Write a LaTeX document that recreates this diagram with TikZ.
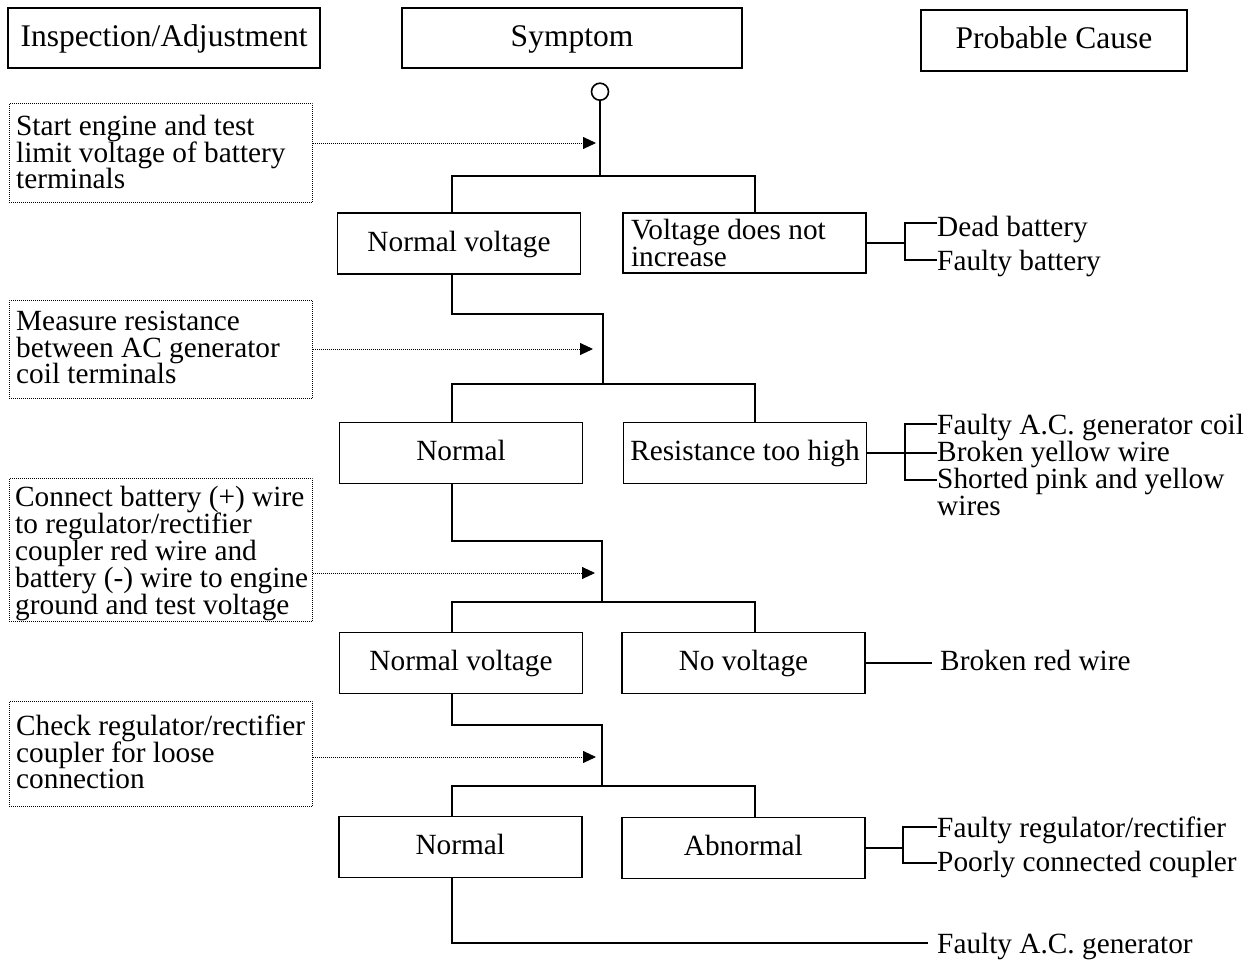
\documentclass[tikz,border=0pt]{standalone}
\usepackage{fontspec}
\setmainfont{Liberation Serif}
\usetikzlibrary{arrows.meta}
\begin{document}
\lineskiplimit=-20pt
\begin{tikzpicture}[x=1pt,y=-1pt,
  every node/.style={inner sep=0pt},
  body/.style={font=\fontsize{29.3}{26.8}\selectfont},
  headbox/.style={draw,line width=1.6pt,minimum width=#1,minimum height=60pt,
    font=\fontsize{31.5}{30}\selectfont,text height=21.5pt,text depth=5pt},
  sbox/.style={draw,line width=1.8pt,minimum width=243pt,minimum height=61pt,
    body,text height=20pt,text depth=5pt},
  sboxml/.style={draw,line width=1.8pt,minimum width=243pt,minimum height=60pt,
    body,align=flush left,text width=227pt,inner xsep=8pt},
  dotbox/.style={draw,line width=0.9pt,dash pattern=on 0.9pt off 1.1pt,
    minimum width=303pt,anchor=north west},
  dottext/.style={body,anchor=north west,align=left},
  dotarr/.style={line width=0.9pt,dash pattern=on 0.9pt off 1.1pt,
    -{Triangle[length=13pt,width=12pt]}},
  conn/.style={line width=1.8pt},
  cause/.style={body,anchor=base west},
]
\useasboundingbox (0,0) rectangle (1257,959);

% column headings
\node[headbox=312pt] (hInsp) at (164,38) {Inspection/Adjustment};
\node[headbox=340pt] (hSym) at (572,38) {Symptom};
\node[headbox=266pt,minimum height=61pt] (hCause) at (1054,40.5) {Probable Cause};

% inspection steps (dotted boxes)
\node[dotbox,minimum height=99pt] (i1) at (9,103) {};
\node[dottext] (i1t) at (16,103) {\vrule height 32pt width 0pt Start engine and test\\limit voltage of battery\\terminals};
\node[dotbox,minimum height=98pt] (i2) at (9,300) {};
\node[dottext] (i2t) at (16,300) {\vrule height 30pt width 0pt Measure resistance\\between AC generator\\coil terminals};
\node[dotbox,minimum height=143pt] (i3) at (9,478) {};
\begin{scope}
  \clip (i3.north west) rectangle (i3.south east);
  \node[dottext] (i3t) at (15,478) {\vrule height 28.7pt width 0pt Connect battery (+) wire\\to regulator/rectifier\\coupler red wire and\\battery (-) wire to engine\\ground and test voltage};
\end{scope}
\node[dotbox,minimum height=105pt] (i4) at (9,701) {};
\node[dottext] (i4t) at (16,701) {\vrule height 34pt width 0pt Check regulator/rectifier\\coupler for loose\\connection};

% symptom boxes
\node[draw,circle,line width=1.6pt,minimum size=17pt] (c0) at (600,91.7) {};
\node[sbox] (nv1) at (459,243.5) {Normal voltage};
\node[sboxml] (vd) at (744.5,243) {Voltage does not\\increase};
\node[sbox] (n2) at (461,453) {Normal};
\node[sbox] (rt) at (745,453) {Resistance too high};
\node[sbox] (nv3) at (461,663) {Normal voltage};
\node[sbox] (nov) at (743.5,663) {No voltage};
\node[sbox] (n4) at (460.3,847) {Normal};
\node[sbox] (ab) at (743.3,848) {Abnormal};

% probable causes
\node[cause] (pc1a) at (937,236) {Dead battery};
\node[cause] (pc1b) at (937,270) {Faulty battery};
\node[cause] (pc2a) at (937,434) {Faulty A.C. generator coil};
\node[cause] (pc2b) at (937,461) {Broken yellow wire};
\node[body,anchor=north west,align=left] (pc2c) at (937,464) {\vrule height 24pt width 0pt Shorted pink and yellow\\wires};
\node[cause] (pc3) at (940,670) {Broken red wire};
\node[cause] (pc4a) at (937,837) {Faulty regulator/rectifier};
\node[cause] (pc4b) at (937,871) {Poorly connected coupler};
\node[cause] (pc5) at (937,953) {Faulty A.C. generator};

% flow lines
\coordinate (s1) at (600,176);
\coordinate (L1) at (452,176);
\coordinate (R1) at (755,176);
\draw[conn] (c0) -- (s1);
\draw[conn] (L1 |- nv1.north) -- (L1) -- (R1) -- (R1 |- vd.north);

\coordinate (k2) at (452,314);
\coordinate (s2) at (603,384);
\coordinate (L2) at (452,384);
\coordinate (R2) at (755,384);
\draw[conn] (L1 |- nv1.south) -- (k2) -| (s2);
\draw[conn] (L2 |- n2.north) -- (L2) -- (R2) -- (R2 |- rt.north);

\coordinate (k3) at (452,541);
\coordinate (s3) at (602,602);
\coordinate (L3) at (452,602);
\coordinate (R3) at (755,602);
\draw[conn] (L2 |- n2.south) -- (k3) -| (s3);
\draw[conn] (L3 |- nv3.north) -- (L3) -- (R3) -- (R3 |- nov.north);

\coordinate (k4) at (452,725);
\coordinate (s4) at (602,786);
\coordinate (L4) at (452,786);
\coordinate (R4) at (755,786);
\draw[conn] (L3 |- nv3.south) -- (k4) -| (s4);
\draw[conn] (L4 |- n4.north) -- (L4) -- (R4) -- (R4 |- ab.north);

\coordinate (k5) at (452,943);
\draw[conn,shorten >=9pt] (L4 |- n4.south) -- (k5) -- (k5 -| pc5.west);

% inspection arrows
\coordinate (t1) at (596,143);
\coordinate (t2) at (593,349);
\coordinate (t3) at (595,573);
\coordinate (t4) at (596,757);
\draw[dotarr] (i1.east |- t1) -- (t1);
\draw[dotarr] (i2.east |- t2) -- (t2);
\draw[dotarr] (i3.east |- t3) -- (t3);
\draw[dotarr] (i4.east |- t4) -- (t4);

% cause brackets
\coordinate (b1t) at (905,223);
\coordinate (b1b) at (905,260);
\draw[conn] (vd.east) -- (vd.east -| b1t);
\draw[conn] (b1t -| pc1a.west) -- (b1t) -- (b1b) -- (b1b -| pc1b.west);

\coordinate (b2t) at (905,424);
\coordinate (b2m) at (905,453);
\coordinate (b2b) at (905,480);
\draw[conn] (rt.east) -- (b2m) -- (b2m -| pc2b.west);
\draw[conn] (b2t -| pc2a.west) -- (b2t) -- (b2b) -- (b2b -| pc2c.west);

\draw[conn,shorten >=8pt] (nov.east) -- (nov.east -| pc3.west);

\coordinate (b4t) at (903,827);
\coordinate (b4b) at (903,863);
\draw[conn] (ab.east) -- (ab.east -| b4t);
\draw[conn] (b4t -| pc4a.west) -- (b4t) -- (b4b) -- (b4b -| pc4b.west);
\end{tikzpicture}
\end{document}
